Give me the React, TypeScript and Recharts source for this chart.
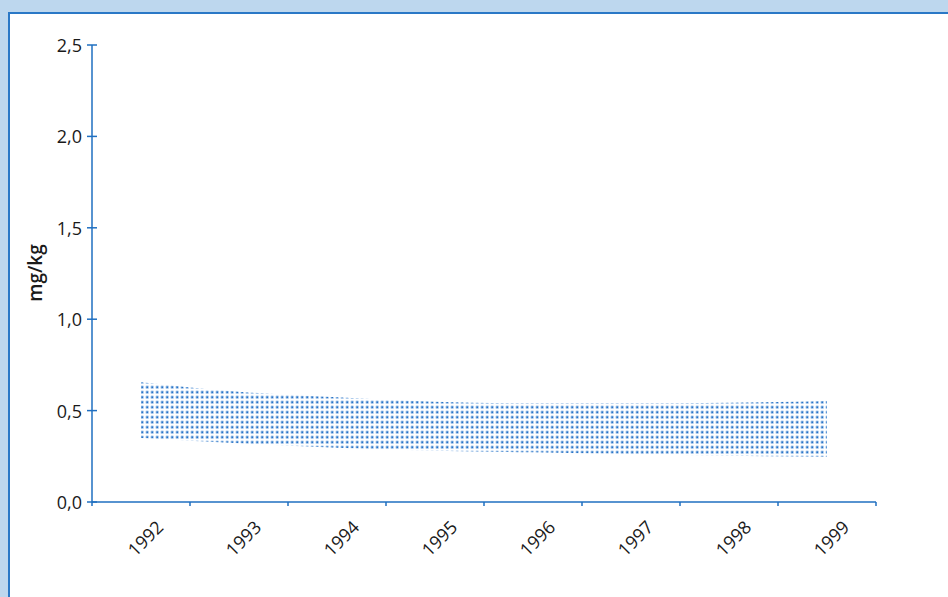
import React from 'react';
import { ComposedChart, Area, XAxis, YAxis } from 'recharts';

const years = ['1992', '1993', '1994', '1995', '1996', '1997', '1998', '1999'];
const upper = [0.655, 0.603, 0.573, 0.549, 0.54, 0.54, 0.543, 0.552];
const lower = [0.35, 0.321, 0.297, 0.281, 0.272, 0.262, 0.253, 0.248];
const yTicks = [0, 0.5, 1, 1.5, 2, 2.5];
const xTicks = [0, 0.5, 1, 1.5, 2, 2.5, 3, 3.5, 4, 4.5, 5, 5.5, 6, 6.5, 7, 7.5, 8];

const data = years.map((y, i) => ({ pos: i + 0.5, year: y, range: [lower[i], upper[i]] }));

const AXIS = '#1f6fc1';
const FONT = '"Open Sans", sans-serif';

const XTick = (props: any) => {
  const { x, y, payload } = props;
  const v = payload.value as number;
  if (Number.isInteger(v)) {
    return <line x1={x} x2={x} y1={y} y2={y + 4} stroke={AXIS} strokeWidth={1.5} />;
  }
  const label = years[Math.floor(v)];
  const cx = x + 4;
  const cy = y + 36;
  return (
    <text
      x={cx}
      y={cy}
      textAnchor="middle"
      dominantBaseline="central"
      transform={`rotate(-45, ${cx}, ${cy})`}
      fill="#1a1a1a"
      fontSize={18}
      fontFamily={FONT}
    >
      {label}
    </text>
  );
};

const YTick = (props: any) => {
  const { x, y, payload } = props;
  const v = payload.value as number;
  return (
    <g>
      <line x1={x + 5} x2={x + 15} y1={y} y2={y} stroke={AXIS} strokeWidth={1.5} />
      <text x={x} y={y} textAnchor="end" dominantBaseline="central" fill="#1a1a1a" fontSize={18} fontFamily={FONT}>
        {v.toFixed(1).replace('.', ',')}
      </text>
    </g>
  );
};

export default function App() {
  return (
    <div style={{ position: 'fixed', left: 0, top: 0, width: 948, height: 597, background: '#bdd7ee', overflow: 'hidden' }}>
      <div
        style={{
          position: 'absolute',
          left: 8,
          top: 12,
          width: 960,
          height: 600,
          background: '#ffffff',
          borderTop: `2px solid #2a78c6`,
          borderLeft: `2px solid #2a78c6`,
        }}
      />
      <div style={{ position: 'absolute', left: 0, top: 0 }}>
        <ComposedChart width={948} height={597} data={data} margin={{ top: 45, right: 72, bottom: 0, left: 0 }}>
          <defs>
            <pattern id="dots" x={0} y={0} width={5} height={5} patternUnits="userSpaceOnUse">
              <rect x={0.5} y={0.5} width={3.4} height={3.4} rx={1.2} fill="#a9c9ec" />
              <rect x={1.4} y={1.4} width={1.6} height={1.6} fill="#2a74c6" />
            </pattern>
          </defs>
          <XAxis
            xAxisId="main"
            dataKey="pos"
            type="number"
            domain={[0, 8]}
            ticks={xTicks}
            interval={0}
            height={95}
            tickLine={false}
            tickSize={0}
            tickMargin={0}
            axisLine={{ stroke: AXIS, strokeWidth: 1.5 }}
            tick={<XTick />}
          />
          <XAxis
            xAxisId="top"
            orientation="top"
            dataKey="pos"
            type="number"
            domain={[0, 8]}
            height={0}
            tick={false}
            tickLine={false}
            axisLine={{ stroke: AXIS, strokeWidth: 1.5 }}
          />
          <YAxis
            yAxisId="main"
            type="number"
            domain={[0, 2.5]}
            ticks={yTicks}
            width={92}
            tickLine={false}
            tickSize={5}
            tickMargin={5}
            axisLine={{ stroke: AXIS, strokeWidth: 1.5 }}
            tick={<YTick />}
            label={{
              content: () => (
                <text
                  x={35}
                  y={273}
                  textAnchor="middle"
                  dominantBaseline="central"
                  transform="rotate(-90, 35, 273)"
                  fill="#1a1a1a"
                  fontSize={19}
                  fontWeight={600}
                  fontFamily={FONT}
                >
                  mg/kg
                </text>
              ),
            }}
          />
          <YAxis
            yAxisId="right"
            orientation="right"
            type="number"
            domain={[0, 2.5]}
            width={0}
            tick={false}
            tickLine={false}
            axisLine={{ stroke: AXIS, strokeWidth: 1.5 }}
          />
          <Area
            xAxisId="main"
            yAxisId="main"
            type="monotone"
            dataKey="range"
            stroke="none"
            fill="url(#dots)"
            fillOpacity={1}
            isAnimationActive={false}
            dot={false}
            activeDot={false}
          />
        </ComposedChart>
      </div>
    </div>
  );
}
